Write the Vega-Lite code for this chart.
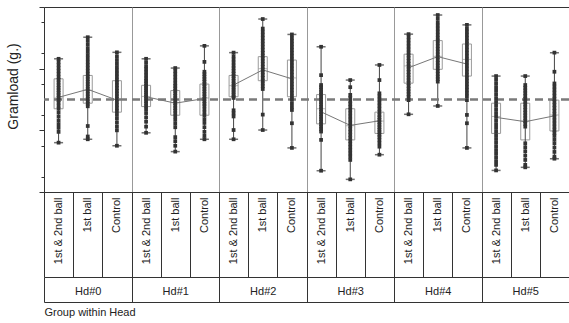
{
"$schema":"https://vega.github.io/schema/vega-lite/v6.json",
"width":525,"height":185,
"autosize":{"type":"none"},
"padding":{"left":44,"top":7,"right":0,"bottom":131},
"config":{"view":{"stroke":"#333","strokeWidth":1},"font":"Liberation Sans","axis":{"labelFont":"Liberation Sans","titleFont":"Liberation Sans"}},
"datasets":{
"summary":[
{"head":"Hd#0","group":"1st & 2nd ball","cell":"Hd#0|1st & 2nd ball","min":-1.40,"q1":-0.30,"median":0.05,"q3":0.67,"max":1.32,"mean":0.07},
{"head":"Hd#0","group":"1st ball","cell":"Hd#0|1st ball","min":-1.29,"q1":-0.12,"median":0.30,"q3":0.78,"max":2.02,"mean":0.33},
{"head":"Hd#0","group":"Control","cell":"Hd#0|Control","min":-1.50,"q1":-0.41,"median":0.00,"q3":0.61,"max":1.53,"mean":-0.02},
{"head":"Hd#1","group":"1st & 2nd ball","cell":"Hd#1|1st & 2nd ball","min":-1.08,"q1":-0.23,"median":0.10,"q3":0.46,"max":1.32,"mean":0.09},
{"head":"Hd#1","group":"1st ball","cell":"Hd#1|1st ball","min":-1.69,"q1":-0.51,"median":-0.10,"q3":0.29,"max":1.02,"mean":-0.12},
{"head":"Hd#1","group":"Control","cell":"Hd#1|Control","min":-1.29,"q1":-0.51,"median":0.05,"q3":0.50,"max":1.74,"mean":0.03},
{"head":"Hd#2","group":"1st & 2nd ball","cell":"Hd#2|1st & 2nd ball","min":-1.29,"q1":0.09,"median":0.45,"q3":0.78,"max":1.52,"mean":0.47},
{"head":"Hd#2","group":"1st ball","cell":"Hd#2|1st ball","min":-0.99,"q1":0.61,"median":1.00,"q3":1.39,"max":2.61,"mean":0.96},
{"head":"Hd#2","group":"Control","cell":"Hd#2|Control","min":-1.57,"q1":0.09,"median":0.70,"q3":1.28,"max":2.11,"mean":0.67},
{"head":"Hd#3","group":"1st & 2nd ball","cell":"Hd#3|1st & 2nd ball","min":-2.31,"q1":-0.79,"median":-0.30,"q3":0.16,"max":1.71,"mean":-0.40},
{"head":"Hd#3","group":"1st ball","cell":"Hd#3|1st ball","min":-2.59,"q1":-1.31,"median":-0.85,"q3":-0.30,"max":0.63,"mean":-0.84},
{"head":"Hd#3","group":"Control","cell":"Hd#3|Control","min":-1.79,"q1":-1.10,"median":-0.70,"q3":-0.41,"max":1.12,"mean":-0.69},
{"head":"Hd#4","group":"1st & 2nd ball","cell":"Hd#4|1st & 2nd ball","min":-0.48,"q1":0.53,"median":1.09,"q3":1.47,"max":2.12,"mean":1.03},
{"head":"Hd#4","group":"1st ball","cell":"Hd#4|1st ball","min":-0.21,"q1":0.98,"median":1.40,"q3":1.91,"max":2.74,"mean":1.39},
{"head":"Hd#4","group":"Control","cell":"Hd#4|Control","min":-1.57,"q1":0.76,"median":1.30,"q3":1.80,"max":2.42,"mean":1.15},
{"head":"Hd#5","group":"1st & 2nd ball","cell":"Hd#5|1st & 2nd ball","min":-2.30,"q1":-1.10,"median":-0.55,"q3":-0.12,"max":0.76,"mean":-0.58},
{"head":"Hd#5","group":"1st ball","cell":"Hd#5|1st ball","min":-2.20,"q1":-1.31,"median":-0.70,"q3":-0.12,"max":0.76,"mean":-0.72},
{"head":"Hd#5","group":"Control","cell":"Hd#5|Control","min":-1.92,"q1":-1.02,"median":-0.50,"q3":-0.02,"max":1.52,"mean":-0.53}
],
"points":[
{"cell":"Hd#0|1st & 2nd ball","gramload":1.32},{"cell":"Hd#0|1st & 2nd ball","gramload":1.22},{"cell":"Hd#0|1st & 2nd ball","gramload":1.12},{"cell":"Hd#0|1st & 2nd ball","gramload":1.02},{"cell":"Hd#0|1st & 2nd ball","gramload":0.92},{"cell":"Hd#0|1st & 2nd ball","gramload":0.82},{"cell":"Hd#0|1st & 2nd ball","gramload":0.72},{"cell":"Hd#0|1st & 2nd ball","gramload":0.64},{"cell":"Hd#0|1st & 2nd ball","gramload":0.55},{"cell":"Hd#0|1st & 2nd ball","gramload":0.46},{"cell":"Hd#0|1st & 2nd ball","gramload":0.38},{"cell":"Hd#0|1st & 2nd ball","gramload":0.30},{"cell":"Hd#0|1st & 2nd ball","gramload":0.22},{"cell":"Hd#0|1st & 2nd ball","gramload":0.14},{"cell":"Hd#0|1st & 2nd ball","gramload":0.06},{"cell":"Hd#0|1st & 2nd ball","gramload":-0.02},{"cell":"Hd#0|1st & 2nd ball","gramload":-0.10},{"cell":"Hd#0|1st & 2nd ball","gramload":-0.20},{"cell":"Hd#0|1st & 2nd ball","gramload":-0.30},{"cell":"Hd#0|1st & 2nd ball","gramload":-0.42},{"cell":"Hd#0|1st & 2nd ball","gramload":-0.55},{"cell":"Hd#0|1st & 2nd ball","gramload":-0.68},{"cell":"Hd#0|1st & 2nd ball","gramload":-0.80},{"cell":"Hd#0|1st & 2nd ball","gramload":-0.92},{"cell":"Hd#0|1st & 2nd ball","gramload":-1.05},{"cell":"Hd#0|1st & 2nd ball","gramload":-1.40},
{"cell":"Hd#0|1st ball","gramload":2.02},{"cell":"Hd#0|1st ball","gramload":1.90},{"cell":"Hd#0|1st ball","gramload":1.78},{"cell":"Hd#0|1st ball","gramload":1.66},{"cell":"Hd#0|1st ball","gramload":1.55},{"cell":"Hd#0|1st ball","gramload":1.44},{"cell":"Hd#0|1st ball","gramload":1.33},{"cell":"Hd#0|1st ball","gramload":1.22},{"cell":"Hd#0|1st ball","gramload":1.12},{"cell":"Hd#0|1st ball","gramload":1.02},{"cell":"Hd#0|1st ball","gramload":0.92},{"cell":"Hd#0|1st ball","gramload":0.82},{"cell":"Hd#0|1st ball","gramload":0.74},{"cell":"Hd#0|1st ball","gramload":0.66},{"cell":"Hd#0|1st ball","gramload":0.58},{"cell":"Hd#0|1st ball","gramload":0.50},{"cell":"Hd#0|1st ball","gramload":0.42},{"cell":"Hd#0|1st ball","gramload":0.34},{"cell":"Hd#0|1st ball","gramload":0.26},{"cell":"Hd#0|1st ball","gramload":0.18},{"cell":"Hd#0|1st ball","gramload":0.10},{"cell":"Hd#0|1st ball","gramload":0.02},{"cell":"Hd#0|1st ball","gramload":-0.06},{"cell":"Hd#0|1st ball","gramload":-0.14},{"cell":"Hd#0|1st ball","gramload":-0.22},{"cell":"Hd#0|1st ball","gramload":-0.86},{"cell":"Hd#0|1st ball","gramload":-1.20},{"cell":"Hd#0|1st ball","gramload":-1.29},
{"cell":"Hd#0|Control","gramload":1.53},{"cell":"Hd#0|Control","gramload":1.40},{"cell":"Hd#0|Control","gramload":1.28},{"cell":"Hd#0|Control","gramload":1.16},{"cell":"Hd#0|Control","gramload":1.05},{"cell":"Hd#0|Control","gramload":0.94},{"cell":"Hd#0|Control","gramload":0.84},{"cell":"Hd#0|Control","gramload":0.74},{"cell":"Hd#0|Control","gramload":0.64},{"cell":"Hd#0|Control","gramload":0.55},{"cell":"Hd#0|Control","gramload":0.46},{"cell":"Hd#0|Control","gramload":0.37},{"cell":"Hd#0|Control","gramload":0.28},{"cell":"Hd#0|Control","gramload":0.19},{"cell":"Hd#0|Control","gramload":0.10},{"cell":"Hd#0|Control","gramload":0.01},{"cell":"Hd#0|Control","gramload":-0.08},{"cell":"Hd#0|Control","gramload":-0.18},{"cell":"Hd#0|Control","gramload":-0.28},{"cell":"Hd#0|Control","gramload":-0.38},{"cell":"Hd#0|Control","gramload":-0.50},{"cell":"Hd#0|Control","gramload":-0.62},{"cell":"Hd#0|Control","gramload":-0.75},{"cell":"Hd#0|Control","gramload":-0.88},{"cell":"Hd#0|Control","gramload":-1.00},{"cell":"Hd#0|Control","gramload":-1.50},
{"cell":"Hd#1|1st & 2nd ball","gramload":1.32},{"cell":"Hd#1|1st & 2nd ball","gramload":1.20},{"cell":"Hd#1|1st & 2nd ball","gramload":1.08},{"cell":"Hd#1|1st & 2nd ball","gramload":0.98},{"cell":"Hd#1|1st & 2nd ball","gramload":0.88},{"cell":"Hd#1|1st & 2nd ball","gramload":0.78},{"cell":"Hd#1|1st & 2nd ball","gramload":0.68},{"cell":"Hd#1|1st & 2nd ball","gramload":0.60},{"cell":"Hd#1|1st & 2nd ball","gramload":0.52},{"cell":"Hd#1|1st & 2nd ball","gramload":0.44},{"cell":"Hd#1|1st & 2nd ball","gramload":0.37},{"cell":"Hd#1|1st & 2nd ball","gramload":0.30},{"cell":"Hd#1|1st & 2nd ball","gramload":0.23},{"cell":"Hd#1|1st & 2nd ball","gramload":0.16},{"cell":"Hd#1|1st & 2nd ball","gramload":0.09},{"cell":"Hd#1|1st & 2nd ball","gramload":0.02},{"cell":"Hd#1|1st & 2nd ball","gramload":-0.05},{"cell":"Hd#1|1st & 2nd ball","gramload":-0.13},{"cell":"Hd#1|1st & 2nd ball","gramload":-0.22},{"cell":"Hd#1|1st & 2nd ball","gramload":-0.32},{"cell":"Hd#1|1st & 2nd ball","gramload":-0.44},{"cell":"Hd#1|1st & 2nd ball","gramload":-0.58},{"cell":"Hd#1|1st & 2nd ball","gramload":-0.72},{"cell":"Hd#1|1st & 2nd ball","gramload":-0.88},{"cell":"Hd#1|1st & 2nd ball","gramload":-1.08},
{"cell":"Hd#1|1st ball","gramload":1.02},{"cell":"Hd#1|1st ball","gramload":0.92},{"cell":"Hd#1|1st ball","gramload":0.82},{"cell":"Hd#1|1st ball","gramload":0.72},{"cell":"Hd#1|1st ball","gramload":0.62},{"cell":"Hd#1|1st ball","gramload":0.52},{"cell":"Hd#1|1st ball","gramload":0.44},{"cell":"Hd#1|1st ball","gramload":0.36},{"cell":"Hd#1|1st ball","gramload":0.28},{"cell":"Hd#1|1st ball","gramload":0.20},{"cell":"Hd#1|1st ball","gramload":0.12},{"cell":"Hd#1|1st ball","gramload":0.04},{"cell":"Hd#1|1st ball","gramload":-0.04},{"cell":"Hd#1|1st ball","gramload":-0.12},{"cell":"Hd#1|1st ball","gramload":-0.20},{"cell":"Hd#1|1st ball","gramload":-0.28},{"cell":"Hd#1|1st ball","gramload":-0.36},{"cell":"Hd#1|1st ball","gramload":-0.45},{"cell":"Hd#1|1st ball","gramload":-0.55},{"cell":"Hd#1|1st ball","gramload":-0.66},{"cell":"Hd#1|1st ball","gramload":-0.78},{"cell":"Hd#1|1st ball","gramload":-0.90},{"cell":"Hd#1|1st ball","gramload":-1.22},{"cell":"Hd#1|1st ball","gramload":-1.35},{"cell":"Hd#1|1st ball","gramload":-1.50},{"cell":"Hd#1|1st ball","gramload":-1.69},
{"cell":"Hd#1|Control","gramload":1.74},{"cell":"Hd#1|Control","gramload":1.22},{"cell":"Hd#1|Control","gramload":0.90},{"cell":"Hd#1|Control","gramload":0.82},{"cell":"Hd#1|Control","gramload":0.74},{"cell":"Hd#1|Control","gramload":0.66},{"cell":"Hd#1|Control","gramload":0.58},{"cell":"Hd#1|Control","gramload":0.50},{"cell":"Hd#1|Control","gramload":0.42},{"cell":"Hd#1|Control","gramload":0.34},{"cell":"Hd#1|Control","gramload":0.26},{"cell":"Hd#1|Control","gramload":0.18},{"cell":"Hd#1|Control","gramload":0.10},{"cell":"Hd#1|Control","gramload":0.02},{"cell":"Hd#1|Control","gramload":-0.06},{"cell":"Hd#1|Control","gramload":-0.14},{"cell":"Hd#1|Control","gramload":-0.22},{"cell":"Hd#1|Control","gramload":-0.32},{"cell":"Hd#1|Control","gramload":-0.42},{"cell":"Hd#1|Control","gramload":-0.52},{"cell":"Hd#1|Control","gramload":-0.64},{"cell":"Hd#1|Control","gramload":-0.76},{"cell":"Hd#1|Control","gramload":-0.90},{"cell":"Hd#1|Control","gramload":-1.05},{"cell":"Hd#1|Control","gramload":-1.18},{"cell":"Hd#1|Control","gramload":-1.29},
{"cell":"Hd#2|1st & 2nd ball","gramload":1.52},{"cell":"Hd#2|1st & 2nd ball","gramload":1.40},{"cell":"Hd#2|1st & 2nd ball","gramload":1.30},{"cell":"Hd#2|1st & 2nd ball","gramload":1.20},{"cell":"Hd#2|1st & 2nd ball","gramload":1.10},{"cell":"Hd#2|1st & 2nd ball","gramload":1.01},{"cell":"Hd#2|1st & 2nd ball","gramload":0.92},{"cell":"Hd#2|1st & 2nd ball","gramload":0.84},{"cell":"Hd#2|1st & 2nd ball","gramload":0.76},{"cell":"Hd#2|1st & 2nd ball","gramload":0.68},{"cell":"Hd#2|1st & 2nd ball","gramload":0.60},{"cell":"Hd#2|1st & 2nd ball","gramload":0.52},{"cell":"Hd#2|1st & 2nd ball","gramload":0.45},{"cell":"Hd#2|1st & 2nd ball","gramload":0.38},{"cell":"Hd#2|1st & 2nd ball","gramload":0.31},{"cell":"Hd#2|1st & 2nd ball","gramload":0.24},{"cell":"Hd#2|1st & 2nd ball","gramload":0.17},{"cell":"Hd#2|1st & 2nd ball","gramload":0.10},{"cell":"Hd#2|1st & 2nd ball","gramload":0.05},{"cell":"Hd#2|1st & 2nd ball","gramload":-0.35},{"cell":"Hd#2|1st & 2nd ball","gramload":-0.45},{"cell":"Hd#2|1st & 2nd ball","gramload":-0.55},{"cell":"Hd#2|1st & 2nd ball","gramload":-0.99},{"cell":"Hd#2|1st & 2nd ball","gramload":-1.29},
{"cell":"Hd#2|1st ball","gramload":2.61},{"cell":"Hd#2|1st ball","gramload":2.30},{"cell":"Hd#2|1st ball","gramload":2.20},{"cell":"Hd#2|1st ball","gramload":2.10},{"cell":"Hd#2|1st ball","gramload":2.00},{"cell":"Hd#2|1st ball","gramload":1.90},{"cell":"Hd#2|1st ball","gramload":1.80},{"cell":"Hd#2|1st ball","gramload":1.70},{"cell":"Hd#2|1st ball","gramload":1.60},{"cell":"Hd#2|1st ball","gramload":1.51},{"cell":"Hd#2|1st ball","gramload":1.42},{"cell":"Hd#2|1st ball","gramload":1.33},{"cell":"Hd#2|1st ball","gramload":1.24},{"cell":"Hd#2|1st ball","gramload":1.15},{"cell":"Hd#2|1st ball","gramload":1.06},{"cell":"Hd#2|1st ball","gramload":0.97},{"cell":"Hd#2|1st ball","gramload":0.88},{"cell":"Hd#2|1st ball","gramload":0.79},{"cell":"Hd#2|1st ball","gramload":0.70},{"cell":"Hd#2|1st ball","gramload":0.61},{"cell":"Hd#2|1st ball","gramload":0.52},{"cell":"Hd#2|1st ball","gramload":0.43},{"cell":"Hd#2|1st ball","gramload":0.34},{"cell":"Hd#2|1st ball","gramload":-0.49},{"cell":"Hd#2|1st ball","gramload":-0.99},
{"cell":"Hd#2|Control","gramload":2.11},{"cell":"Hd#2|Control","gramload":2.00},{"cell":"Hd#2|Control","gramload":1.90},{"cell":"Hd#2|Control","gramload":1.80},{"cell":"Hd#2|Control","gramload":1.70},{"cell":"Hd#2|Control","gramload":1.60},{"cell":"Hd#2|Control","gramload":1.50},{"cell":"Hd#2|Control","gramload":1.40},{"cell":"Hd#2|Control","gramload":1.30},{"cell":"Hd#2|Control","gramload":1.20},{"cell":"Hd#2|Control","gramload":1.10},{"cell":"Hd#2|Control","gramload":1.00},{"cell":"Hd#2|Control","gramload":0.90},{"cell":"Hd#2|Control","gramload":0.80},{"cell":"Hd#2|Control","gramload":0.70},{"cell":"Hd#2|Control","gramload":0.60},{"cell":"Hd#2|Control","gramload":0.50},{"cell":"Hd#2|Control","gramload":0.40},{"cell":"Hd#2|Control","gramload":0.30},{"cell":"Hd#2|Control","gramload":0.20},{"cell":"Hd#2|Control","gramload":0.10},{"cell":"Hd#2|Control","gramload":0.00},{"cell":"Hd#2|Control","gramload":-0.12},{"cell":"Hd#2|Control","gramload":-0.24},{"cell":"Hd#2|Control","gramload":-0.34},{"cell":"Hd#2|Control","gramload":-0.77},{"cell":"Hd#2|Control","gramload":-1.57},
{"cell":"Hd#3|1st & 2nd ball","gramload":1.71},{"cell":"Hd#3|1st & 2nd ball","gramload":0.79},{"cell":"Hd#3|1st & 2nd ball","gramload":0.47},{"cell":"Hd#3|1st & 2nd ball","gramload":0.40},{"cell":"Hd#3|1st & 2nd ball","gramload":0.32},{"cell":"Hd#3|1st & 2nd ball","gramload":0.24},{"cell":"Hd#3|1st & 2nd ball","gramload":0.16},{"cell":"Hd#3|1st & 2nd ball","gramload":0.08},{"cell":"Hd#3|1st & 2nd ball","gramload":0.00},{"cell":"Hd#3|1st & 2nd ball","gramload":-0.08},{"cell":"Hd#3|1st & 2nd ball","gramload":-0.16},{"cell":"Hd#3|1st & 2nd ball","gramload":-0.24},{"cell":"Hd#3|1st & 2nd ball","gramload":-0.32},{"cell":"Hd#3|1st & 2nd ball","gramload":-0.40},{"cell":"Hd#3|1st & 2nd ball","gramload":-0.48},{"cell":"Hd#3|1st & 2nd ball","gramload":-0.56},{"cell":"Hd#3|1st & 2nd ball","gramload":-0.64},{"cell":"Hd#3|1st & 2nd ball","gramload":-0.72},{"cell":"Hd#3|1st & 2nd ball","gramload":-0.80},{"cell":"Hd#3|1st & 2nd ball","gramload":-0.88},{"cell":"Hd#3|1st & 2nd ball","gramload":-0.96},{"cell":"Hd#3|1st & 2nd ball","gramload":-1.04},{"cell":"Hd#3|1st & 2nd ball","gramload":-1.31},{"cell":"Hd#3|1st & 2nd ball","gramload":-2.31},
{"cell":"Hd#3|1st ball","gramload":0.63},{"cell":"Hd#3|1st ball","gramload":0.40},{"cell":"Hd#3|1st ball","gramload":0.15},{"cell":"Hd#3|1st ball","gramload":0.05},{"cell":"Hd#3|1st ball","gramload":-0.05},{"cell":"Hd#3|1st ball","gramload":-0.15},{"cell":"Hd#3|1st ball","gramload":-0.25},{"cell":"Hd#3|1st ball","gramload":-0.35},{"cell":"Hd#3|1st ball","gramload":-0.45},{"cell":"Hd#3|1st ball","gramload":-0.55},{"cell":"Hd#3|1st ball","gramload":-0.65},{"cell":"Hd#3|1st ball","gramload":-0.75},{"cell":"Hd#3|1st ball","gramload":-0.85},{"cell":"Hd#3|1st ball","gramload":-0.95},{"cell":"Hd#3|1st ball","gramload":-1.05},{"cell":"Hd#3|1st ball","gramload":-1.15},{"cell":"Hd#3|1st ball","gramload":-1.25},{"cell":"Hd#3|1st ball","gramload":-1.35},{"cell":"Hd#3|1st ball","gramload":-1.45},{"cell":"Hd#3|1st ball","gramload":-1.55},{"cell":"Hd#3|1st ball","gramload":-1.65},{"cell":"Hd#3|1st ball","gramload":-1.75},{"cell":"Hd#3|1st ball","gramload":-1.85},{"cell":"Hd#3|1st ball","gramload":-1.96},{"cell":"Hd#3|1st ball","gramload":-2.59},
{"cell":"Hd#3|Control","gramload":1.12},{"cell":"Hd#3|Control","gramload":0.63},{"cell":"Hd#3|Control","gramload":0.20},{"cell":"Hd#3|Control","gramload":0.10},{"cell":"Hd#3|Control","gramload":0.00},{"cell":"Hd#3|Control","gramload":-0.10},{"cell":"Hd#3|Control","gramload":-0.20},{"cell":"Hd#3|Control","gramload":-0.30},{"cell":"Hd#3|Control","gramload":-0.40},{"cell":"Hd#3|Control","gramload":-0.50},{"cell":"Hd#3|Control","gramload":-0.58},{"cell":"Hd#3|Control","gramload":-0.66},{"cell":"Hd#3|Control","gramload":-0.74},{"cell":"Hd#3|Control","gramload":-0.82},{"cell":"Hd#3|Control","gramload":-0.90},{"cell":"Hd#3|Control","gramload":-0.98},{"cell":"Hd#3|Control","gramload":-1.06},{"cell":"Hd#3|Control","gramload":-1.14},{"cell":"Hd#3|Control","gramload":-1.22},{"cell":"Hd#3|Control","gramload":-1.32},{"cell":"Hd#3|Control","gramload":-1.42},{"cell":"Hd#3|Control","gramload":-1.53},{"cell":"Hd#3|Control","gramload":-1.79},
{"cell":"Hd#4|1st & 2nd ball","gramload":2.12},{"cell":"Hd#4|1st & 2nd ball","gramload":2.02},{"cell":"Hd#4|1st & 2nd ball","gramload":1.92},{"cell":"Hd#4|1st & 2nd ball","gramload":1.82},{"cell":"Hd#4|1st & 2nd ball","gramload":1.72},{"cell":"Hd#4|1st & 2nd ball","gramload":1.62},{"cell":"Hd#4|1st & 2nd ball","gramload":1.52},{"cell":"Hd#4|1st & 2nd ball","gramload":1.43},{"cell":"Hd#4|1st & 2nd ball","gramload":1.34},{"cell":"Hd#4|1st & 2nd ball","gramload":1.25},{"cell":"Hd#4|1st & 2nd ball","gramload":1.16},{"cell":"Hd#4|1st & 2nd ball","gramload":1.07},{"cell":"Hd#4|1st & 2nd ball","gramload":0.98},{"cell":"Hd#4|1st & 2nd ball","gramload":0.89},{"cell":"Hd#4|1st & 2nd ball","gramload":0.80},{"cell":"Hd#4|1st & 2nd ball","gramload":0.71},{"cell":"Hd#4|1st & 2nd ball","gramload":0.62},{"cell":"Hd#4|1st & 2nd ball","gramload":0.53},{"cell":"Hd#4|1st & 2nd ball","gramload":0.44},{"cell":"Hd#4|1st & 2nd ball","gramload":0.35},{"cell":"Hd#4|1st & 2nd ball","gramload":0.26},{"cell":"Hd#4|1st & 2nd ball","gramload":0.17},{"cell":"Hd#4|1st & 2nd ball","gramload":0.08},{"cell":"Hd#4|1st & 2nd ball","gramload":-0.02},{"cell":"Hd#4|1st & 2nd ball","gramload":-0.48},
{"cell":"Hd#4|1st ball","gramload":2.74},{"cell":"Hd#4|1st ball","gramload":2.62},{"cell":"Hd#4|1st ball","gramload":2.50},{"cell":"Hd#4|1st ball","gramload":2.40},{"cell":"Hd#4|1st ball","gramload":2.30},{"cell":"Hd#4|1st ball","gramload":2.20},{"cell":"Hd#4|1st ball","gramload":2.10},{"cell":"Hd#4|1st ball","gramload":2.00},{"cell":"Hd#4|1st ball","gramload":1.91},{"cell":"Hd#4|1st ball","gramload":1.82},{"cell":"Hd#4|1st ball","gramload":1.73},{"cell":"Hd#4|1st ball","gramload":1.64},{"cell":"Hd#4|1st ball","gramload":1.55},{"cell":"Hd#4|1st ball","gramload":1.46},{"cell":"Hd#4|1st ball","gramload":1.37},{"cell":"Hd#4|1st ball","gramload":1.28},{"cell":"Hd#4|1st ball","gramload":1.19},{"cell":"Hd#4|1st ball","gramload":1.10},{"cell":"Hd#4|1st ball","gramload":1.01},{"cell":"Hd#4|1st ball","gramload":0.92},{"cell":"Hd#4|1st ball","gramload":0.83},{"cell":"Hd#4|1st ball","gramload":0.74},{"cell":"Hd#4|1st ball","gramload":0.66},{"cell":"Hd#4|1st ball","gramload":0.58},{"cell":"Hd#4|1st ball","gramload":-0.21},
{"cell":"Hd#4|Control","gramload":2.42},{"cell":"Hd#4|Control","gramload":2.30},{"cell":"Hd#4|Control","gramload":2.20},{"cell":"Hd#4|Control","gramload":2.10},{"cell":"Hd#4|Control","gramload":2.00},{"cell":"Hd#4|Control","gramload":1.90},{"cell":"Hd#4|Control","gramload":1.80},{"cell":"Hd#4|Control","gramload":1.70},{"cell":"Hd#4|Control","gramload":1.60},{"cell":"Hd#4|Control","gramload":1.50},{"cell":"Hd#4|Control","gramload":1.40},{"cell":"Hd#4|Control","gramload":1.30},{"cell":"Hd#4|Control","gramload":1.20},{"cell":"Hd#4|Control","gramload":1.10},{"cell":"Hd#4|Control","gramload":1.00},{"cell":"Hd#4|Control","gramload":0.90},{"cell":"Hd#4|Control","gramload":0.80},{"cell":"Hd#4|Control","gramload":0.70},{"cell":"Hd#4|Control","gramload":0.60},{"cell":"Hd#4|Control","gramload":0.50},{"cell":"Hd#4|Control","gramload":0.40},{"cell":"Hd#4|Control","gramload":0.30},{"cell":"Hd#4|Control","gramload":0.20},{"cell":"Hd#4|Control","gramload":0.10},{"cell":"Hd#4|Control","gramload":-0.02},{"cell":"Hd#4|Control","gramload":-0.50},{"cell":"Hd#4|Control","gramload":-0.77},{"cell":"Hd#4|Control","gramload":-1.57},
{"cell":"Hd#5|1st & 2nd ball","gramload":0.76},{"cell":"Hd#5|1st & 2nd ball","gramload":0.64},{"cell":"Hd#5|1st & 2nd ball","gramload":0.52},{"cell":"Hd#5|1st & 2nd ball","gramload":0.40},{"cell":"Hd#5|1st & 2nd ball","gramload":0.28},{"cell":"Hd#5|1st & 2nd ball","gramload":0.16},{"cell":"Hd#5|1st & 2nd ball","gramload":0.04},{"cell":"Hd#5|1st & 2nd ball","gramload":-0.08},{"cell":"Hd#5|1st & 2nd ball","gramload":-0.20},{"cell":"Hd#5|1st & 2nd ball","gramload":-0.32},{"cell":"Hd#5|1st & 2nd ball","gramload":-0.44},{"cell":"Hd#5|1st & 2nd ball","gramload":-0.56},{"cell":"Hd#5|1st & 2nd ball","gramload":-0.68},{"cell":"Hd#5|1st & 2nd ball","gramload":-0.80},{"cell":"Hd#5|1st & 2nd ball","gramload":-0.92},{"cell":"Hd#5|1st & 2nd ball","gramload":-1.04},{"cell":"Hd#5|1st & 2nd ball","gramload":-1.16},{"cell":"Hd#5|1st & 2nd ball","gramload":-1.28},{"cell":"Hd#5|1st & 2nd ball","gramload":-1.40},{"cell":"Hd#5|1st & 2nd ball","gramload":-1.52},{"cell":"Hd#5|1st & 2nd ball","gramload":-1.64},{"cell":"Hd#5|1st & 2nd ball","gramload":-1.76},{"cell":"Hd#5|1st & 2nd ball","gramload":-1.88},{"cell":"Hd#5|1st & 2nd ball","gramload":-2.00},{"cell":"Hd#5|1st & 2nd ball","gramload":-2.12},{"cell":"Hd#5|1st & 2nd ball","gramload":-2.30},
{"cell":"Hd#5|1st ball","gramload":0.76},{"cell":"Hd#5|1st ball","gramload":0.47},{"cell":"Hd#5|1st ball","gramload":0.38},{"cell":"Hd#5|1st ball","gramload":0.29},{"cell":"Hd#5|1st ball","gramload":0.20},{"cell":"Hd#5|1st ball","gramload":0.11},{"cell":"Hd#5|1st ball","gramload":0.02},{"cell":"Hd#5|1st ball","gramload":-0.07},{"cell":"Hd#5|1st ball","gramload":-0.16},{"cell":"Hd#5|1st ball","gramload":-0.25},{"cell":"Hd#5|1st ball","gramload":-0.34},{"cell":"Hd#5|1st ball","gramload":-0.43},{"cell":"Hd#5|1st ball","gramload":-0.52},{"cell":"Hd#5|1st ball","gramload":-0.61},{"cell":"Hd#5|1st ball","gramload":-0.70},{"cell":"Hd#5|1st ball","gramload":-0.79},{"cell":"Hd#5|1st ball","gramload":-0.88},{"cell":"Hd#5|1st ball","gramload":-1.42},{"cell":"Hd#5|1st ball","gramload":-1.55},{"cell":"Hd#5|1st ball","gramload":-1.68},{"cell":"Hd#5|1st ball","gramload":-1.82},{"cell":"Hd#5|1st ball","gramload":-1.96},{"cell":"Hd#5|1st ball","gramload":-2.12},{"cell":"Hd#5|1st ball","gramload":-2.20},
{"cell":"Hd#5|Control","gramload":1.52},{"cell":"Hd#5|Control","gramload":0.90},{"cell":"Hd#5|Control","gramload":0.52},{"cell":"Hd#5|Control","gramload":0.42},{"cell":"Hd#5|Control","gramload":0.32},{"cell":"Hd#5|Control","gramload":0.22},{"cell":"Hd#5|Control","gramload":0.12},{"cell":"Hd#5|Control","gramload":0.02},{"cell":"Hd#5|Control","gramload":-0.08},{"cell":"Hd#5|Control","gramload":-0.18},{"cell":"Hd#5|Control","gramload":-0.28},{"cell":"Hd#5|Control","gramload":-0.38},{"cell":"Hd#5|Control","gramload":-0.48},{"cell":"Hd#5|Control","gramload":-0.58},{"cell":"Hd#5|Control","gramload":-0.68},{"cell":"Hd#5|Control","gramload":-0.78},{"cell":"Hd#5|Control","gramload":-0.88},{"cell":"Hd#5|Control","gramload":-0.98},{"cell":"Hd#5|Control","gramload":-1.08},{"cell":"Hd#5|Control","gramload":-1.18},{"cell":"Hd#5|Control","gramload":-1.30},{"cell":"Hd#5|Control","gramload":-1.42},{"cell":"Hd#5|Control","gramload":-1.56},{"cell":"Hd#5|Control","gramload":-1.70},{"cell":"Hd#5|Control","gramload":-1.85},{"cell":"Hd#5|Control","gramload":-1.92}
]
},
"resolve":{"scale":{"x":"independent","y":"independent"},"axis":{"x":"independent","y":"independent"}},
"layer":[
{"layer":[
{"data":{"name":"summary"},
"mark":{"type":"bar","width":9,"fillOpacity":0,"stroke":"#9a9a9a","strokeWidth":1},
"encoding":{
"x":{"field":"cell","type":"nominal","scale":{"type":"band","paddingInner":0,"paddingOuter":0},
"axis":{"orient":"bottom","title":null,"labelExpr":"split(datum.value, '|')[1]","labelAngle":270,"labelAlign":"right","labelBaseline":"middle","labelPadding":-80,"labelFontSize":11,"labelColor":"#222","labelOverlap":false,"tickBand":"extent","tickSize":85,"tickColor":"#333","domainColor":"#333","grid":false}},
"y":{"field":"q1","type":"quantitative","scale":{"domain":[-3,3],"nice":false,"zero":false},
"axis":{"orient":"left","title":"Gramload (g.)","values":[-3,-2,-1,0,1,2,3],"labels":false,"tickSize":5,"tickColor":"#333","domainColor":"#333","grid":false,"titleFontSize":14,"titleFontWeight":"normal","titleColor":"#222","titleX":-31,"titleY":79,"titleBaseline":"middle","titleAngle":270}},
"y2":{"field":"q3"}}},
{"data":{"name":"summary"},
"mark":{"type":"tick","size":9,"thickness":1,"color":"#9a9a9a"},
"encoding":{"x":{"field":"cell","type":"nominal"},"y":{"field":"median","type":"quantitative"}}},
{"data":{"name":"summary"},
"mark":{"type":"rule","color":"#444","strokeWidth":1},
"encoding":{"x":{"field":"cell","type":"nominal"},"y":{"field":"min","type":"quantitative"},"y2":{"field":"max"}}},
{"data":{"name":"summary"},
"mark":{"type":"tick","size":9,"thickness":1.5,"color":"#333"},
"encoding":{"x":{"field":"cell","type":"nominal"},"y":{"field":"min","type":"quantitative"}}},
{"data":{"name":"summary"},
"mark":{"type":"tick","size":9,"thickness":1.5,"color":"#333"},
"encoding":{"x":{"field":"cell","type":"nominal"},"y":{"field":"max","type":"quantitative"}}},
{"data":{"values":[{"reference":0}]},
"mark":{"type":"rule","color":"#7a7a7a","strokeWidth":2.5,"strokeDash":[8,5]},
"encoding":{"y":{"field":"reference","type":"quantitative"}}},
{"data":{"name":"summary"},
"mark":{"type":"line","color":"#777","strokeWidth":1},
"encoding":{"x":{"field":"cell","type":"nominal"},"y":{"field":"mean","type":"quantitative"},"detail":{"field":"head"}}},
{"data":{"name":"points"},
"mark":{"type":"square","size":14,"color":"#333","opacity":1},
"encoding":{"x":{"field":"cell","type":"nominal"},"y":{"field":"gramload","type":"quantitative"}}}
]},
{"data":{"name":"summary"},
"mark":{"type":"point","opacity":0},
"encoding":{"x":{"field":"head","type":"nominal","scale":{"type":"band","paddingInner":0,"paddingOuter":0},
"axis":{"orient":"bottom","offset":85,"title":null,"labelAngle":0,"tickBand":"extent","tickSize":25,"labelPadding":-17,"labelFontSize":11,"labelColor":"#222","tickColor":"#333","domainColor":"#333","grid":true,"gridColor":"#999"}},
"y":{"datum":0,"type":"quantitative","scale":{"domain":[-3,3],"nice":false,"zero":false},
"axis":{"orient":"left","title":null,"values":[-2.5,-1.5,-0.5,0.5,1.5,2.5],"labels":false,"domain":false,"grid":false,"tickSize":3,"tickColor":"#333"}}}},
{"data":{"name":"summary"},
"mark":{"type":"point","opacity":0},
"encoding":{"x":{"field":"head","type":"nominal","scale":{"type":"band","paddingInner":0,"paddingOuter":0},
"axis":{"orient":"bottom","offset":110,"ticks":false,"labels":false,"grid":false,"domainColor":"#333","title":"Group within Head","titleAnchor":"start","titlePadding":4,"titleFontSize":11,"titleFontWeight":"normal","titleColor":"#222"}}}}
]
}
